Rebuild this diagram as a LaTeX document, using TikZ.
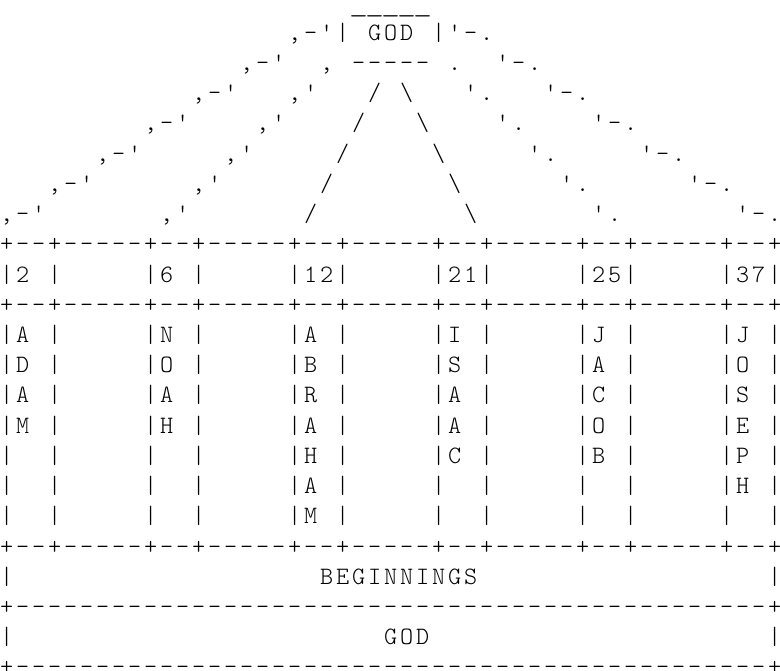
\documentclass[tikz,border=0pt]{standalone}
\usepackage{graphicx}
\usepackage{fontspec}
\setmonofont{lmmonolt10-regular.otf}
\newlength\cw \setlength\cw{16pt}
\def\ascend{ascii-row-end}
\newcommand\spc{}
\def\ascloop#1{%
  \ifx#1\ascend \let\ascnext\relax
  \else\ifx#1\spc \let\ascnext\ascspc
  \else \hbox to\cw{\hss#1\hss}\let\ascnext\ascloop
  \fi\fi
  \ascnext}
\def\ascspc#1{\kern#1\cw\ascloop}
\newcommand\ascrow[1]{\ascloop#1\ascend}
\newcommand\bsl{\textbackslash}
\newcommand\usc{\raisebox{-2.5pt}{\scalebox{1.45}[1]{\_}}}
\newcommand\asciifont{\ttfamily\fontsize{25pt}{30.2pt}\selectfont}
\tikzset{asc/.style={anchor=base west, inner sep=0pt, outer sep=0pt, font=\asciifont, text=black}}
\begin{document}
\begin{tikzpicture}[x=1pt,y=-1pt]
\useasboundingbox (0,0) rectangle (780,671);
\def\xo{-1.3}
\def\by{10.1}
\def\ph{30.22}
% roof
\node[asc] (r0) at (\xo,{\by+\ph*0}) {\ascrow{\spc{22}\usc\usc\usc\usc\usc}};
\node[asc] (r1) at (\xo,{\by+\ph*1}) {\ascrow{\spc{18},-'|\spc1GOD\spc1|'-.}};
\node[asc] (r2) at (\xo,{\by+\ph*2}) {\ascrow{\spc{15},-'\spc2,\spc1-----\spc1.\spc2'-.}};
\node[asc] (r3) at (\xo,{\by+\ph*3}) {\ascrow{\spc{12},-'\spc3,'\spc3/\spc1\bsl\spc3'.\spc3'-.}};
\node[asc] (r4) at (\xo,{\by+\ph*4}) {\ascrow{\spc9,-'\spc4,'\spc4/\spc3\bsl\spc4'.\spc4'-.}};
\node[asc] (r5) at (\xo,{\by+\ph*5}) {\ascrow{\spc6,-'\spc5,'\spc5/\spc5\bsl\spc5'.\spc5'-.}};
\node[asc] (r6) at (\xo,{\by+\ph*6}) {\ascrow{\spc3,-'\spc6,'\spc6/\spc7\bsl\spc6'.\spc6'-.}};
\node[asc] (r7) at (\xo,{\by+\ph*7}) {\ascrow{,-'\spc7,'\spc7/\spc9\bsl\spc7'.\spc7'-.}};
% table
\node[asc] (r8)  at (\xo,{\by+\ph*8})  {\ascrow{+--+-----+--+-----+--+-----+--+-----+--+-----+--+}};
\node[asc] (r9)  at (\xo,{\by+\ph*9})  {\ascrow{|2\spc1|\spc5|6\spc1|\spc5|12|\spc5|21|\spc5|25|\spc5|37|}};
\node[asc] (r10) at (\xo,{\by+\ph*10}) {\ascrow{+--+-----+--+-----+--+-----+--+-----+--+-----+--+}};
\node[asc] (r11) at (\xo,{\by+\ph*11}) {\ascrow{|A\spc1|\spc5|N\spc1|\spc5|A\spc1|\spc5|I\spc1|\spc5|J\spc1|\spc5|J\spc1|}};
\node[asc] (r12) at (\xo,{\by+\ph*12}) {\ascrow{|D\spc1|\spc5|O\spc1|\spc5|B\spc1|\spc5|S\spc1|\spc5|A\spc1|\spc5|O\spc1|}};
\node[asc] (r13) at (\xo,{\by+\ph*13}) {\ascrow{|A\spc1|\spc5|A\spc1|\spc5|R\spc1|\spc5|A\spc1|\spc5|C\spc1|\spc5|S\spc1|}};
\node[asc] (r14) at (\xo,{\by+\ph*14}) {\ascrow{|M\spc1|\spc5|H\spc1|\spc5|A\spc1|\spc5|A\spc1|\spc5|O\spc1|\spc5|E\spc1|}};
\node[asc] (r15) at (\xo,{\by+\ph*15}) {\ascrow{|\spc2|\spc5|\spc2|\spc5|H\spc1|\spc5|C\spc1|\spc5|B\spc1|\spc5|P\spc1|}};
\node[asc] (r16) at (\xo,{\by+\ph*16}) {\ascrow{|\spc2|\spc5|\spc2|\spc5|A\spc1|\spc5|\spc2|\spc5|\spc2|\spc5|H\spc1|}};
\node[asc] (r17) at (\xo,{\by+\ph*17}) {\ascrow{|\spc2|\spc5|\spc2|\spc5|M\spc1|\spc5|\spc2|\spc5|\spc2|\spc5|\spc2|}};
\node[asc] (r18) at (\xo,{\by+\ph*18}) {\ascrow{+--+-----+--+-----+--+-----+--+-----+--+-----+--+}};
\node[asc] (r19) at (\xo,{\by+\ph*19}) {\ascrow{|\spc{19}BEGINNINGS\spc{18}|}};
\node[asc] (r20) at (\xo,{\by+\ph*20}) {\ascrow{+-----------------------------------------------+}};
\node[asc] (r21) at (\xo,{\by+\ph*21}) {\ascrow{|\spc{23}GOD\spc{21}|}};
\node[asc] (r22) at (\xo,{\by+\ph*22}) {\ascrow{+-----------------------------------------------+}};
\end{tikzpicture}
\end{document}
